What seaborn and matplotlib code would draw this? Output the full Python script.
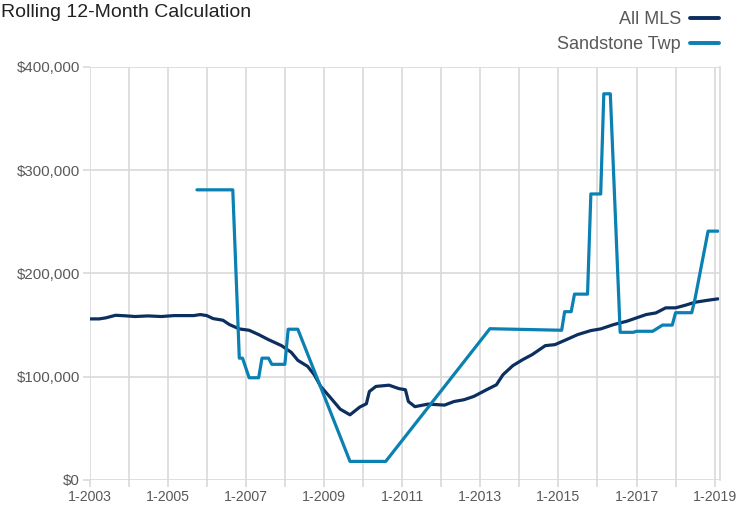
import pandas as pd
import seaborn as sns
import matplotlib.pyplot as plt
from matplotlib.lines import Line2D
from matplotlib.ticker import FuncFormatter

# All MLS rolling 12-month median price
mls_dates = ['2003-01', '2003-04', '2003-06', '2003-09', '2003-12', '2004-03', '2004-07',
             '2004-11', '2005-03', '2005-09', '2005-11', '2006-01', '2006-03', '2006-06',
             '2006-08', '2006-11', '2007-02', '2007-05', '2007-08', '2007-12', '2008-03',
             '2008-05', '2008-08', '2008-10', '2008-12', '2009-03', '2009-06', '2009-09',
             '2009-12', '2010-02', '2010-03', '2010-05', '2010-09', '2010-12', '2011-02',
             '2011-03', '2011-05', '2011-09', '2012-02', '2012-05', '2012-08', '2012-11',
             '2013-03', '2013-06', '2013-08', '2013-11', '2014-02', '2014-05', '2014-09',
             '2014-12', '2015-04', '2015-07', '2015-11', '2016-02', '2016-06', '2016-10',
             '2017-01', '2017-04', '2017-07', '2017-10', '2018-01', '2018-04', '2018-07',
             '2018-11', '2019-02']
mls_price = [156000, 156000, 157000, 159500, 159000, 158300, 158900,
             158300, 159200, 159200, 160200, 159200, 156300, 154700,
             150500, 146300, 145000, 140800, 135900, 130100, 123600,
             115900, 110000, 102000, 90600, 79900, 68600, 63100,
             70600, 73800, 85700, 90600, 91800, 88500, 87400,
             76000, 71000, 73500, 72500, 76000, 77700, 80900,
             87400, 92200, 101900, 110700, 116500, 121400, 130100,
             131100, 136600, 140800, 144700, 146300, 150500, 153700,
             157000, 160200, 161800, 166700, 166700, 169200, 172100,
             174100, 175400]

# Sandstone Twp
twp_dates = ['2005-10', '2006-09', '2006-11', '2006-12', '2007-02', '2007-05', '2007-06',
             '2007-08', '2007-09', '2008-01', '2008-02', '2008-05', '2009-09', '2010-08',
             '2013-04', '2015-02', '2015-03', '2015-05', '2015-06', '2015-10', '2015-11',
             '2016-02', '2016-03', '2016-05', '2016-08', '2016-12', '2017-01', '2017-06',
             '2017-09', '2017-12', '2018-01', '2018-06', '2018-07', '2018-11', '2019-02']
twp_price = [281000, 281000, 118000, 118000, 99000, 99000, 118000,
             118000, 112000, 112000, 146000, 146000, 18000, 18000,
             146500, 145000, 163000, 163000, 180000, 180000, 277000,
             277000, 374000, 374000, 143000, 143000, 144000, 144000,
             150000, 150000, 162000, 162000, 175000, 241000, 241000]

label_years = [2003, 2005, 2007, 2009, 2011, 2013, 2015, 2017, 2019]
minor_years = [2004, 2006, 2008, 2010, 2012, 2014, 2016, 2018]
y_ticks = [0, 100000, 200000, 300000, 400000]

colors = {'All MLS': '#0c2f5f', 'Sandstone Twp': '#0a80b3'}
grid_color = '#d9d9d9'
text_color = '#595959'

df = pd.concat([
    pd.DataFrame({'date': pd.to_datetime(mls_dates), 'price': mls_price, 'area': 'All MLS'}),
    pd.DataFrame({'date': pd.to_datetime(twp_dates), 'price': twp_price, 'area': 'Sandstone Twp'}),
])

sns.set_theme(style='white')
plt.rcParams['font.family'] = ['Liberation Sans', 'DejaVu Sans']

fig = plt.figure(figsize=(7.36, 5.15), dpi=100)
ax = fig.add_axes([0.1217, 0.068, 0.8565, 0.802])

sns.lineplot(data=df, x='date', y='price', hue='area', palette=colors,
             linewidth=2.3, estimator=None, legend=False, ax=ax)

ax.set_xlim(pd.Timestamp('2003-01-01'), pd.Timestamp('2019-02-20'))
ax.set_ylim(0, 400000)

ax.set_xticks(pd.to_datetime([f'{y}-01-01' for y in label_years]),
              labels=[f'1-{y}' for y in label_years])
ax.set_xticks(pd.to_datetime([f'{y}-01-01' for y in minor_years]), minor=True)
ax.set_yticks(y_ticks)
ax.yaxis.set_major_formatter(FuncFormatter(lambda v, p: f'${v:,.0f}'))

ax.grid(True, which='both', color=grid_color, linewidth=1.2)
ax.set_axisbelow(True)
ax.tick_params(axis='both', which='both', length=5, width=1.2, color=grid_color,
               labelcolor=text_color, pad=2)
ax.tick_params(axis='x', which='both', bottom=True, labelsize=10.2)
ax.tick_params(axis='y', left=True, labelsize=10.8)
for side in ['top', 'left', 'bottom']:
    ax.spines[side].set_visible(False)
ax.spines['right'].set_color(grid_color)
ax.spines['right'].set_linewidth(1.2)
ax.set_xlabel('')
ax.set_ylabel('')

fig.text(0.002, 0.992, 'Rolling 12-Month Calculation', ha='left', va='top',
         fontsize=14, color='#222222')

handles = [Line2D([0], [0], color=colors[k], linewidth=2.8) for k in colors]
fig.legend(handles, list(colors), loc='upper right', bbox_to_anchor=(0.999, 1.01),
           frameon=False, markerfirst=False, handlelength=1.6, handletextpad=0.5,
           labelspacing=0.45, fontsize=13, labelcolor=text_color)

fig.savefig('out.png', dpi=100)
